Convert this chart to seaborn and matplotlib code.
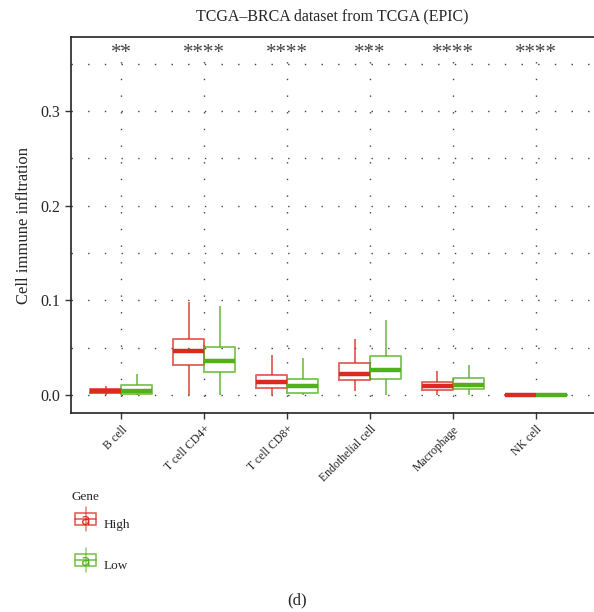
import numpy as np
import pandas as pd
import matplotlib
matplotlib.use("Agg")
import matplotlib.pyplot as plt
import seaborn as sns
from matplotlib.legend_handler import HandlerBase
from matplotlib.patches import Rectangle
from matplotlib.lines import Line2D
from matplotlib.text import Text
from matplotlib.ticker import MultipleLocator

cells = ["B cell", "T cell CD4+", "T cell CD8+", "Endothelial cell", "Macrophage", "NK cell"]
stars = ["**", "****", "****", "***", "****", "****"]

# five-number summaries (min, q1, median, q3, max)
high_min = [0.000, 0.000, 0.000, 0.004, 0.000, 0.000]
high_q1  = [0.002, 0.032, 0.007, 0.016, 0.005, 0.000]
high_med = [0.004, 0.046, 0.014, 0.0225, 0.009, 0.000]
high_q3  = [0.006, 0.0595, 0.0215, 0.034, 0.014, 0.000]
high_max = [0.010, 0.098, 0.042, 0.0595, 0.025, 0.000]

low_min = [0.000, 0.000, 0.000, 0.000, 0.000, 0.000]
low_q1  = [0.001, 0.024, 0.0025, 0.0166, 0.0063, 0.000]
low_med = [0.004, 0.036, 0.0098, 0.0267, 0.011, 0.000]
low_q3  = [0.011, 0.051, 0.017, 0.0415, 0.0176, 0.000]
low_max = [0.022, 0.094, 0.0387, 0.079, 0.032, 0.000]

groups = ["High", "Low"]
colors = {"High": "#D92B1F", "Low": "#52B01C"}

rows = []
for i, c in enumerate(cells):
    for v in (high_min[i], high_q1[i], high_med[i], high_q3[i], high_max[i]):
        rows.append((c, "High", v))
    for v in (low_min[i], low_q1[i], low_med[i], low_q3[i], low_max[i]):
        rows.append((c, "Low", v))
df = pd.DataFrame(rows, columns=["cell", "Gene", "value"])

sns.set_style("white")
plt.rcParams["font.family"] = ["Liberation Serif", "DejaVu Serif"]

fig = plt.figure(figsize=(5.94, 6.12), dpi=100)
ax = fig.add_axes([71/594, 1-413/612, 1-71/594, (413-37)/612])

sns.boxplot(data=df, x="cell", y="value", hue="Gene", order=cells, hue_order=groups,
            palette=colors, fill=False, width=0.75, gap=0, whis=(0, 100),
            showfliers=False, showcaps=False, linewidth=1.3,
            medianprops=dict(linewidth=3.2, alpha=1),
            boxprops=dict(alpha=0.75), whiskerprops=dict(alpha=0.75),
            legend=False, ax=ax, zorder=3)

ax.set_xlim(-0.607, 5.7)
ax.set_ylim(-0.019, 0.378)
ax.yaxis.set_major_locator(MultipleLocator(0.1))
ax.yaxis.set_minor_locator(MultipleLocator(0.05))
ax.yaxis.set_major_formatter(matplotlib.ticker.FormatStrFormatter("%.1f"))
dot = (0, (1, 11))
ax.yaxis.grid(True, which="both", linestyle=dot, color="#444444", linewidth=1)
ax.xaxis.grid(True, which="major", linestyle=dot, color="#444444", linewidth=1)
ax.set_axisbelow(True)
ax.tick_params(axis="y", which="minor", length=0)
ax.tick_params(axis="both", which="major", length=4, width=1, color="#333333",
               direction="out", labelsize=11.5, left=True, bottom=True)
ax.tick_params(axis="x", labelsize=8.5)
for lab in ax.get_xticklabels():
    lab.set_rotation(45)
    lab.set_ha("right")
    lab.set_rotation_mode("anchor")
for s in ["left", "bottom", "top"]:
    ax.spines[s].set_color("#222222")
    ax.spines[s].set_linewidth(1.2)
ax.spines["right"].set_visible(False)

ax.set_xlabel("")
ax.set_ylabel("Cell immune infltration", fontsize=12, labelpad=6)
ax.set_title("TCGA\u2013BRCA dataset from TCGA (EPIC)", fontsize=11.5, pad=12)

for i, s in enumerate(stars):
    ax.text(i, 0.3606, s, ha="center", va="center", fontsize=15, color="#444444")


class BoxHandler(HandlerBase):
    def create_artists(self, legend, orig, xd, yd, w, h, fontsize, trans):
        col = orig.get_color()
        arts = []
        r = Rectangle((xd, yd + h*0.05), w, h*0.9, facecolor="white", edgecolor=col,
                      linewidth=1.1, alpha=0.8, transform=trans)
        arts.append(r)
        arts.append(Line2D([xd + w/2, xd + w/2], [yd - h*0.4, yd + h*1.4], color=col,
                           linewidth=1.1, alpha=0.6, transform=trans))
        arts.append(Line2D([xd, xd + w], [yd + h/2, yd + h/2], color=col,
                           linewidth=1.1, alpha=0.8, transform=trans))
        t = Text(xd + w/2, yd + h/2, "a", color=col, ha="center", va="center_baseline",
                 fontsize=fontsize*1.2, fontfamily="DejaVu Sans", transform=trans)
        arts.append(t)
        return arts


handles = [Line2D([], [], color=colors[g]) for g in groups]
fig.text(72/594, 1-497/612, "Gene", ha="left", va="center", fontsize=9.5)
leg = fig.legend(handles, groups, handler_map={Line2D: BoxHandler()},
                 loc="upper left", bbox_to_anchor=(75/594, 1-517/612),
                 frameon=False, fontsize=9.5,
                 handlelength=1.6, handleheight=1.2, labelspacing=2.0,
                 handletextpad=0.6, borderpad=0.0, borderaxespad=0.0)

fig.text(0.5, 1-600/612, "(d)", ha="center", va="center", fontsize=12)

fig.savefig("out.png", dpi=100)
